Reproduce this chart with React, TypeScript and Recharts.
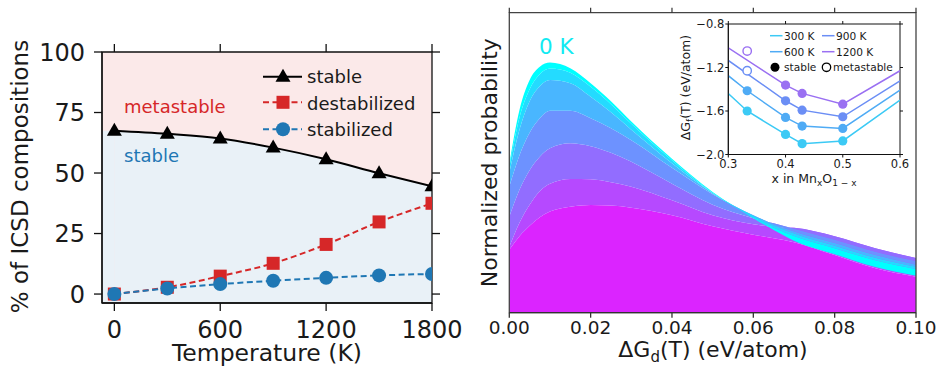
import React from "react";
import {
  ComposedChart,
  Line,
  Area,
  XAxis,
  YAxis,
  ReferenceArea,
  ReferenceLine,
  Scatter,
  CartesianGrid,
} from "recharts";

const FONT = "DejaVu Sans, Verdana, sans-serif";

// left panel: share of ICSD compositions vs temperature
const temperatures = [0, 300, 600, 900, 1200, 1500, 1800];
const stablePct = [67.5, 66.2, 64.3, 60.5, 55.7, 49.9, 44.5];
const destabilizedPct = [0, 2.8, 7.4, 12.7, 20.5, 29.8, 37.5];
const stabilizedPct = [0, 2.3, 4.1, 5.5, 6.7, 7.7, 8.3];
const tempTicks = [0, 600, 1200, 1800];
const pctTicks = [0, 25, 50, 75, 100];
const tempDomain = [-70, 1800];
const pctDomain = [-3.7, 100];

// right panel: normalized probability of dG_d, one curve per temperature (0 K on top)
const dGd = [0, 0.0025, 0.005, 0.0075, 0.01, 0.015, 0.02, 0.025, 0.03, 0.04, 0.05, 0.06, 0.065, 0.07, 0.08, 0.09, 0.1];
const prob0K = [49.5, 67.6, 77.6, 82.0, 83.4, 81.5, 76.5, 70.5, 63.7, 51.3, 40.2, 31.5, 27.6, 24.0, 19.5, 15.2, 12.3];
const probT1 = [48.5, 65.0, 74.5, 79.5, 81.4, 80.0, 75.3, 69.5, 63.0, 50.8, 39.9, 31.8, 28.3, 25.6, 21.5, 17.5, 14.6];
const probT2 = [46.5, 61.0, 70.5, 75.5, 77.6, 76.5, 72.0, 66.8, 61.0, 49.8, 39.8, 32.3, 29.0, 26.4, 22.3, 18.3, 15.3];
const probT3 = [42.0, 52.5, 60.0, 64.8, 67.3, 67.3, 64.8, 61.5, 57.5, 48.3, 39.5, 32.5, 29.5, 27.1, 23.2, 19.2, 16.0];
const probT4 = [32.0, 41.0, 47.5, 52.0, 54.8, 56.5, 55.5, 53.3, 50.3, 43.0, 36.0, 31.5, 29.8, 28.0, 24.3, 20.3, 17.2];
const probT5 = [22.0, 30.0, 36.0, 40.5, 43.0, 44.6, 44.5, 43.5, 42.0, 37.5, 32.5, 29.5, 28.6, 28.3, 25.5, 21.5, 18.2];
const probT6 = [21.0, 25.5, 29.0, 31.8, 33.7, 35.3, 35.9, 35.7, 35.0, 32.5, 28.8, 26.0, 24.8, 23.5, 19.2, 14.8, 12.0];
const dGdTicks = [0, 0.02, 0.04, 0.06, 0.08, 0.1];
const probDomain = [0, 100];
const bandColors = ["#00ffff", "#24dbff", "#49b6ff", "#6d92ff", "#926dff", "#b649ff", "#db24ff"];

// inset: formation energy hull of Mn-O
const insetX = [0.3, 0.333, 0.4, 0.429, 0.5, 0.6];
const hull300K = [-1.44, -1.6, -1.815, -1.9, -1.875, -1.5];
const hull600K = [-1.275, -1.414, -1.659, -1.739, -1.76, -1.408];
const hull900K = [-1.135, null, -1.506, -1.592, -1.653, -1.322];
const hull1200K = [-1.02, null, -1.362, -1.438, -1.537, -1.23];
const metaX = [0.333];
const meta900K = [-1.23];
const meta1200K = [-1.049];
const insetTemps = ["300 K", "600 K", "900 K", "1200 K"];
const insetColors = ["#3ccaf5", "#4fabf5", "#6b8ef5", "#9a70f2"];
const insetXTicks = [0.3, 0.4, 0.5, 0.6];
const insetYTicks = [-2.0, -1.6, -1.2, -0.8];
const insetXDomain = [0.3, 0.6];
const insetYDomain = [-2.0, -0.8];

const leftRows = temperatures.map((t, i) => ({
  t,
  stable: stablePct[i],
  destab: destabilizedPct[i],
  stabil: stabilizedPct[i],
}));

const probCurves = [prob0K, probT1, probT2, probT3, probT4, probT5, probT6];
const probRows = dGd.map((x, i) => {
  const row: Record<string, any> = { x, base: probCurves[6][i] };
  for (let k = 0; k < 6; k++) row[`band${k}`] = [probCurves[k + 1][i], probCurves[k][i]];
  return row;
});

const insetHulls = [hull300K, hull600K, hull900K, hull1200K];
const insetRows = insetX.map((x, i) => ({
  x,
  h0: hull300K[i],
  h1: hull600K[i],
  h2: hull900K[i],
  h3: hull1200K[i],
}));
const stablePoints = insetHulls.map((h) =>
  insetX
    .map((x, i) => ({ x, y: h[i] }))
    .filter((p, i) => i > 0 && i < insetX.length - 1 && p.y !== null)
);
const metaPoints = [
  metaX.map((x, i) => ({ x, y: meta900K[i] })),
  metaX.map((x, i) => ({ x, y: meta1200K[i] })),
];

// markers are cut at the frame like in the original figure
const CLIP = "url(#leftPlotClip)";
const TriangleDot = (p: any) =>
  p.cx == null ? null : (
    <path
      key={`tri${p.index}`}
      clipPath={CLIP}
      d={`M${p.cx},${p.cy - 8} L${p.cx + 7.5},${p.cy + 5} L${p.cx - 7.5},${p.cy + 5} Z`}
      fill="#000"
    />
  );
const SquareDot = (p: any) =>
  p.cx == null ? null : (
    <rect key={`sq${p.index}`} clipPath={CLIP} x={p.cx - 6.5} y={p.cy - 6.5} width={13} height={13} fill="#d62728" />
  );
const CircleDot = (p: any) =>
  p.cx == null ? null : <circle key={`ci${p.index}`} clipPath={CLIP} cx={p.cx} cy={p.cy} r={7} fill="#1f77b4" />;

// short outward tick drawn at the top end of a vertical reference line
const topTick = (len: number, color: string, w: number) => (p: any) => {
  const y = Math.min(p.y1, p.y2);
  return <line x1={p.x1} y1={y} x2={p.x1} y2={y - len} stroke={color} strokeWidth={w} />;
};
// short outward tick drawn at the right end of a horizontal reference line
const rightTick = (len: number, color: string, w: number) => (p: any) => {
  const x = Math.max(p.x1, p.x2);
  return <line x1={x} y1={p.y1} x2={x + len} y2={p.y1} stroke={color} strokeWidth={w} />;
};

const minus = (v: number) => (v < 0 ? "\u2212" : "") + Math.abs(v).toFixed(1);

function LeftPanel() {
  const tickStyle = { fontSize: 24, fill: "#1a1a1a", fontFamily: FONT };
  return (
    <ComposedChart
      width={470}
      height={366}
      data={leftRows}
      margin={{ top: 52, right: 38, bottom: 13, left: 12 }}
    >
      <CartesianGrid horizontal={false} vertical={false} fill="#fbe9e9" fillOpacity={1} />
      <ReferenceArea
        x1={tempDomain[0]}
        x2={temperatures[0]}
        y1={pctDomain[0]}
        y2={stablePct[0]}
        fill="#e9f1f7"
        fillOpacity={1}
        stroke="none"
      />
      <XAxis
        dataKey="t"
        type="number"
        domain={tempDomain}
        ticks={tempTicks}
        allowDataOverflow
        height={50}
        tickSize={8}
        tickMargin={10}
        tick={tickStyle}
        stroke="#111"
        strokeWidth={1.3}
      />
      <YAxis
        type="number"
        domain={pctDomain}
        ticks={pctTicks}
        allowDataOverflow
        width={90}
        tickSize={8}
        tickMargin={9}
        tick={tickStyle}
        stroke="#111"
        strokeWidth={1.3}
      />
      <Area
        dataKey="stable"
        type="monotone"
        baseValue={pctDomain[0]}
        fill="#e9f1f7"
        fillOpacity={1}
        stroke="none"
        dot={false}
        activeDot={false}
        isAnimationActive={false}
      />
      <Line
        dataKey="destab"
        type="monotone"
        stroke="#d62728"
        strokeWidth={2}
        strokeDasharray="6 3.5"
        dot={SquareDot}
        activeDot={false}
        isAnimationActive={false}
      />
      <Line
        dataKey="stabil"
        type="monotone"
        stroke="#1f77b4"
        strokeWidth={2}
        strokeDasharray="6 3.5"
        dot={CircleDot}
        activeDot={false}
        isAnimationActive={false}
      />
      <Line
        dataKey="stable"
        type="monotone"
        stroke="#000"
        strokeWidth={2}
        dot={TriangleDot}
        activeDot={false}
        isAnimationActive={false}
      />
      {/* frame and the ticks on top / right */}
      <ReferenceArea
        x1={tempDomain[0]}
        x2={tempDomain[1]}
        y1={pctDomain[0]}
        y2={pctDomain[1]}
        fill="none"
        stroke="#111"
        strokeWidth={1.3}
      />
      {tempTicks.map((t) => (
        <ReferenceLine key={`tt${t}`} x={t} stroke="none" shape={topTick(8, "#111", 1.3)} />
      ))}
      {pctTicks.map((v) => (
        <ReferenceLine key={`rt${v}`} y={v} stroke="none" shape={rightTick(8, "#111", 1.3)} />
      ))}
    </ComposedChart>
  );
}

function RightPanel() {
  return (
    <ComposedChart
      width={470}
      height={366}
      data={probRows}
      margin={{ top: 12.7, right: 24, bottom: 13.3, left: 39.3 }}
    >
      <XAxis
        dataKey="x"
        type="number"
        domain={[dGdTicks[0], dGdTicks[dGdTicks.length - 1]]}
        ticks={dGdTicks}
        tickFormatter={(v: number) => v.toFixed(2)}
        height={40}
        tickSize={5}
        tickMargin={3}
        tick={{ fontSize: 18.5, fill: "#1a1a1a", fontFamily: FONT }}
        stroke="#333"
        strokeWidth={1.3}
      />
      <YAxis type="number" domain={probDomain} width={0} tick={false} tickLine={false} stroke="#444" strokeWidth={1.5} />
      <Area
        dataKey="base"
        type="monotone"
        fill={bandColors[6]}
        fillOpacity={1}
        stroke="none"
        dot={false}
        activeDot={false}
        isAnimationActive={false}
      />
      {[5, 4, 3, 2, 1, 0].map((k) => (
        <Area
          key={k}
          dataKey={`band${k}`}
          type="monotone"
          fill={bandColors[k]}
          fillOpacity={1}
          stroke="none"
          dot={false}
          activeDot={false}
          isAnimationActive={false}
        />
      ))}
      <ReferenceArea
        x1={dGdTicks[0]}
        x2={dGdTicks[dGdTicks.length - 1]}
        y1={probDomain[0]}
        y2={probDomain[1]}
        fill="none"
        stroke="#444"
        strokeWidth={1.3}
      />
      {dGdTicks.map((t) => (
        <ReferenceLine key={`tt${t}`} x={t} stroke="none" shape={topTick(5, "#333", 1.2)} />
      ))}
    </ComposedChart>
  );
}

function Inset() {
  const tickStyle = { fontSize: 11.5, fill: "#1a1a1a", fontFamily: FONT };
  return (
    <ComposedChart
      width={230}
      height={180}
      data={insetRows}
      margin={{ top: 10, right: 10, bottom: 19.5, left: 8.3 }}
    >
      <XAxis
        dataKey="x"
        type="number"
        domain={insetXDomain}
        ticks={insetXTicks}
        tickFormatter={(v: number) => v.toFixed(1)}
        allowDataOverflow
        height={20}
        tickSize={3}
        tickMargin={2}
        tick={tickStyle}
        stroke="#111"
      />
      <YAxis
        type="number"
        domain={insetYDomain}
        ticks={insetYTicks}
        tickFormatter={minus}
        allowDataOverflow
        width={40}
        tickSize={3}
        tickMargin={1}
        tick={tickStyle}
        stroke="#111"
      />
      {insetColors.map((c, k) => (
        <Line
          key={`l${k}`}
          dataKey={`h${k}`}
          type="linear"
          stroke={c}
          strokeWidth={1.5}
          connectNulls
          dot={false}
          activeDot={false}
          isAnimationActive={false}
        />
      ))}
      {insetColors.map((c, k) => (
        <Scatter
          key={`s${k}`}
          data={stablePoints[k]}
          dataKey="y"
          isAnimationActive={false}
          shape={(p: any) => <circle cx={p.cx} cy={p.cy} r={4.6} fill={c} />}
        />
      ))}
      {metaPoints.map((pts, k) => (
        <Scatter
          key={`m${k}`}
          data={pts}
          dataKey="y"
          isAnimationActive={false}
          shape={(p: any) => (
            <circle cx={p.cx} cy={p.cy} r={4.2} fill="#fff" stroke={insetColors[k + 2]} strokeWidth={1.4} />
          )}
        />
      ))}
      <ReferenceArea
        x1={insetXDomain[0]}
        x2={insetXDomain[1]}
        y1={insetYDomain[0]}
        y2={insetYDomain[1]}
        fill="none"
        stroke="#111"
        strokeWidth={1}
      />
      {insetXTicks.map((t) => (
        <ReferenceLine key={`tt${t}`} x={t} stroke="none" shape={topTick(3, "#111", 1)} />
      ))}
      {insetYTicks.map((v) => (
        <ReferenceLine key={`rt${v}`} y={v} stroke="none" shape={rightTick(3, "#111", 1)} />
      ))}
    </ComposedChart>
  );
}

export default function App() {
  const ink = "#1a1a1a";
  return (
    <div
      style={{
        position: "absolute",
        left: 0,
        top: 0,
        width: 940,
        height: 366,
        background: "#fff",
        fontFamily: FONT,
        overflow: "hidden",
      }}
    >
      <svg width={0} height={0} style={{ position: "absolute" }}>
        <defs>
          <clipPath id="leftPlotClip" clipPathUnits="userSpaceOnUse">
            <rect x={102} y={52} width={330} height={251} />
          </clipPath>
        </defs>
      </svg>
      <div style={{ position: "absolute", left: 0, top: 0 }}>
        <LeftPanel />
      </div>
      <div style={{ position: "absolute", left: 470, top: 0 }}>
        <RightPanel />
      </div>
      <div style={{ position: "absolute", left: 680, top: 14 }}>
        <Inset />
      </div>
      <svg
        width={940}
        height={366}
        style={{ position: "absolute", left: 0, top: 0, pointerEvents: "none" }}
        fontFamily={FONT}
      >
        {/* left panel labels */}
        <text x={28} y={176.5} transform="rotate(-90 28 176.5)" textAnchor="middle" fontSize={23} fill={ink}>
          % of ICSD compositions
        </text>
        <text x={267} y={361} textAnchor="middle" fontSize={23.5} fill={ink}>
          Temperature (K)
        </text>
        <text x={124} y={113} fontSize={18} fill="#d62728">
          metastable
        </text>
        <text x={124} y={161.5} fontSize={18} fill="#1f77b4">
          stable
        </text>
        {/* left legend */}
        <line x1={263} y1={76.7} x2={302} y2={76.7} stroke="#000" strokeWidth={2} />
        <path d="M283,68.7 L290.5,81.7 L275.5,81.7 Z" fill="#000" />
        <text x={307} y={83} fontSize={18} fill={ink}>stable</text>
        <line x1={263} y1={102.3} x2={302} y2={102.3} stroke="#d62728" strokeWidth={2} strokeDasharray="6 3.5" />
        <rect x={276.5} y={95.8} width={13} height={13} fill="#d62728" />
        <text x={307} y={109.5} fontSize={18} fill={ink}>destabilized</text>
        <line x1={263} y1={129.3} x2={302} y2={129.3} stroke="#1f77b4" strokeWidth={2} strokeDasharray="6 3.5" />
        <circle cx={283} cy={129.3} r={7} fill="#1f77b4" />
        <text x={307} y={136.3} fontSize={18} fill={ink}>stabilized</text>

        {/* right panel labels */}
        <text x={497} y={162.7} transform="rotate(-90 497 162.7)" textAnchor="middle" fontSize={22} fill={ink}>
          Normalized probability
        </text>
        <text x={539} y={54} fontSize={21.5} fill="#12eaf2">
          0 K
        </text>
        <text x={713} y={357} textAnchor="middle" fontSize={22} fill={ink}>
          ΔG<tspan dy={4.5} fontSize={15}>d</tspan>
          <tspan dy={-4.5}>(T) (eV/atom)</tspan>
        </text>

        {/* inset labels */}
        <text x={690} y={87.5} transform="rotate(-90 690 87.5)" textAnchor="middle" fontSize={12.5} fill={ink}>
          ΔG<tspan dy={3} fontSize={9}>f</tspan>
          <tspan dy={-3}>(T) (eV/atom)</tspan>
        </text>
        <text x={814} y={183} textAnchor="middle" fontSize={12.5} fill={ink}>
          x in Mn<tspan dy={3} fontSize={9}>x</tspan>
          <tspan dy={-3}>O</tspan>
          <tspan dy={3} fontSize={9}>1 − x</tspan>
        </text>
        {insetTemps.map((label, k) => {
          const col = k < 2 ? 0 : 1;
          const row = k % 2;
          const x0 = col === 0 ? 770 : 822;
          const y0 = row === 0 ? 35.7 : 51.7;
          return (
            <g key={label}>
              <line x1={x0} y1={y0} x2={x0 + 12.5} y2={y0} stroke={insetColors[k]} strokeWidth={1.5} />
              <text x={x0 + 14} y={y0 + 4} fontSize={10.6} fill={ink}>
                {label}
              </text>
            </g>
          );
        })}
        <circle cx={775} cy={67.3} r={4.5} fill="#000" />
        <text x={784} y={71.3} fontSize={10.6} fill={ink}>stable</text>
        <circle cx={826.5} cy={67.3} r={4.2} fill="#fff" stroke="#000" strokeWidth={1.3} />
        <text x={833} y={71.3} fontSize={10.6} fill={ink}>metastable</text>
      </svg>
    </div>
  );
}
